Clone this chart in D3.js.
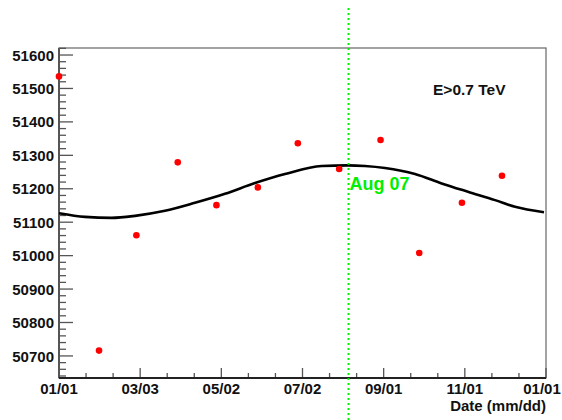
<!DOCTYPE html>
<html><head><meta charset="utf-8">
<script src="https://cdn.jsdelivr.net/npm/d3@7"></script>
<style>
html,body{margin:0;padding:0;background:#fff;}
svg{display:block;}
text{font-family:"Liberation Sans",Arial,Helvetica,sans-serif;font-weight:bold;}
</style></head>
<body>
<script>
// ---- data ----
const pointDays   = [0, 30, 58, 89, 118, 149, 179, 210, 241, 270, 302, 332];
const pointValues = [51536, 50716, 51061, 51279, 51151, 51204, 51336, 51259, 51346, 51008, 51158, 51239];
const curveDays   = [0, 19.5, 39.5, 57, 79.4, 101.9, 124.4, 146.9, 169.4, 196.9, 216.6, 229.3, 244.3, 266.8, 286.8, 306.5, 326.8, 341.8, 363.5];
const curveValues = [51127, 51116, 51113, 51119, 51134, 51158, 51185, 51217, 51244, 51268, 51270, 51268, 51262, 51244, 51216, 51191, 51166, 51146, 51130];
const xTickLabels = ["01/01","03/03","05/02","07/02","09/01","11/01","01/01"];
const yTickValues = [50700, 50800, 50900, 51000, 51100, 51200, 51300, 51400, 51500, 51600];
const markerDay = 217;
const markerLabel = "Aug 07";
const energyLabel = "E>0.7 TeV";
const xTitle = "Date (mm/dd)";

const W = 562, H = 420;
const L = 59, R = 546, T = 48, B = 378;
const svg = d3.select("body").append("svg").attr("width", W).attr("height", H);

const x = d3.scaleLinear().domain([0, 365]).range([L, R]);
const y = d3.scaleLinear().domain([50634, 51621]).range([B, T]);

// frame
svg.append("rect").attr("x", L).attr("y", T).attr("width", R - L).attr("height", B - T)
  .attr("fill", "none").attr("stroke", "#666").attr("stroke-width", 1.2);

// y axis ticks (inside)
const yMinor = d3.range(50640, 51621, 20);
svg.append("g").selectAll("line").data(yMinor).join("line")
  .attr("x1", L).attr("x2", d => L + (d % 100 === 0 ? 14 : 7))
  .attr("y1", d => y(d)).attr("y2", d => y(d))
  .attr("stroke", "#555").attr("stroke-width", 1.3);
svg.append("g").selectAll("text").data(yTickValues).join("text")
  .attr("x", 54).attr("y", d => y(d) + 5.6).attr("text-anchor", "end")
  .attr("font-size", 15).attr("fill", "#111").text(d => d);

// x axis ticks
const xMajor = xTickLabels.map((_, i) => i * 365 / 6);
const xMinor = d3.range(0, 19).map(i => i * 365 / 18);
svg.append("g").selectAll("line").data(xMinor).join("line")
  .attr("x1", d => x(d)).attr("x2", d => x(d))
  .attr("y1", B).attr("y2", (d, i) => B - (i % 3 === 0 ? 10 : 5))
  .attr("stroke", "#555").attr("stroke-width", 1.3);
svg.append("g").selectAll("text").data(xTickLabels).join("text")
  .attr("x", (d, i) => Math.min(x(xMajor[i]), W - 20)).attr("y", 394).attr("text-anchor", "middle")
  .attr("font-size", 15).attr("fill", "#111").text(d => d);

// axis lines
svg.append("line").attr("x1", L).attr("x2", L).attr("y1", T).attr("y2", B)
  .attr("stroke", "#555").attr("stroke-width", 2);
svg.append("line").attr("x1", L).attr("x2", R).attr("y1", B).attr("y2", B)
  .attr("stroke", "#222").attr("stroke-width", 2);

// x title
svg.append("text").attr("x", 546).attr("y", 411).attr("text-anchor", "end")
  .attr("font-size", 15).attr("fill", "#111").text(xTitle);

// fit curve
const curve = curveDays.map((d, i) => [d, curveValues[i]]);
svg.append("path").datum(curve)
  .attr("d", d3.line().x(d => x(d[0])).y(d => y(d[1])).curve(d3.curveMonotoneX))
  .attr("fill", "none").attr("stroke", "#000").attr("stroke-width", 2.6);

// points
svg.append("g").selectAll("circle").data(pointDays).join("circle")
  .attr("cx", d => x(d)).attr("cy", (d, i) => y(pointValues[i])).attr("r", 3.3)
  .attr("fill", "#ff0000");

// marker line
svg.append("line").attr("x1", x(markerDay)).attr("x2", x(markerDay)).attr("y1", 8).attr("y2", H)
  .attr("stroke", "#00f000").attr("stroke-width", 2).attr("stroke-dasharray", "2,3");
svg.append("text").attr("x", x(markerDay) + 1).attr("y", 190)
  .attr("font-size", 18).attr("fill", "#00ee00").text(markerLabel);

// energy label
svg.append("text").attr("x", 433).attr("y", 95)
  .attr("font-size", 15.5).attr("fill", "#111").text(energyLabel);
</script>
</body></html>
